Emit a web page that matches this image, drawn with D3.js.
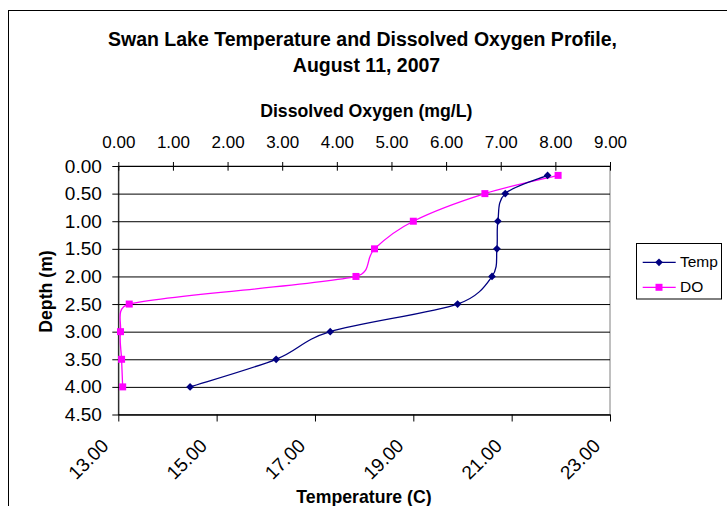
<!DOCTYPE html>
<html>
<head>
<meta charset="utf-8">
<script src="https://cdn.jsdelivr.net/npm/d3@7"></script>
<style>
  html, body { margin: 0; padding: 0; background: #fff; }
  svg { display: block; font-family: "Liberation Sans", Arial, Helvetica, sans-serif; }
</style>
</head>
<body>
<svg id="chart" width="727" height="506"></svg>
<script>
// ---- data ----
const depths = [0.17, 0.5, 1.0, 1.5, 2.0, 2.5, 3.0, 3.5, 4.0];            // m
const tempValues = [21.73, 20.87, 20.72, 20.70, 20.60, 19.90, 17.31, 16.21, 14.46]; // deg C
const doValues = [8.05, 6.71, 5.40, 4.69, 4.35, 0.20, 0.04, 0.06, 0.08];   // mg/L
const depthTicks = [0, 0.5, 1.0, 1.5, 2.0, 2.5, 3.0, 3.5, 4.0, 4.5];
const doTicks = [0, 1, 2, 3, 4, 5, 6, 7, 8, 9];
const tempTicks = [13, 15, 17, 19, 21, 23];
const seriesNames = ["Temp", "DO"];
const seriesColors = ["#000080", "#FF00FF"];
const titleLines = ["Swan Lake Temperature and Dissolved Oxygen Profile,", "August 11, 2007"];
const doAxisTitle = "Dissolved Oxygen (mg/L)";
const tempAxisTitle = "Temperature (C)";
const depthAxisTitle = "Depth (m)";

// ---- layout ----
const plot = { left: 118.3, right: 610, top: 166, bottom: 414.5 };
const plotW = plot.right - plot.left;
const svg = d3.select("#chart");

const y = d3.scaleLinear().domain([0, 4.5]).range([plot.top, plot.bottom]);
const xDO = d3.scaleLinear().domain([0, 9]).range([plot.left, plot.right]);
const xT = d3.scaleLinear().domain([13, 23]).range([plot.left, plot.right]);
const fmt = d3.format(".2f");

// chart area frame (continues past the visible window on the right and bottom)
svg.append("rect")
  .attr("x", 8.5).attr("y", 10.5).attr("width", 800).attr("height", 600)
  .attr("fill", "#fff").attr("stroke", "#000").attr("stroke-width", 1);

// plot area
svg.append("rect")
  .attr("x", plot.left).attr("y", plot.top).attr("width", plotW).attr("height", plot.bottom - plot.top)
  .attr("fill", "#fff").attr("stroke", "#808080").attr("stroke-width", 1);

// horizontal gridlines
const grid = svg.append("g").attr("transform", `translate(${plot.left},0)`)
  .call(d3.axisLeft(y).tickValues(depthTicks).tickSizeInner(-plotW).tickSizeOuter(0).tickFormat(""));
grid.select(".domain").remove();
grid.selectAll(".tick line").attr("stroke", "#000").attr("stroke-width", 1);

// depth axis (left)
const leftAx = svg.append("g").attr("transform", `translate(${plot.left},0)`)
  .call(d3.axisLeft(y).tickValues(depthTicks).tickSize(6).tickSizeOuter(0).tickFormat(fmt));
leftAx.select(".domain").attr("stroke", "#000");
leftAx.selectAll(".tick line").attr("stroke", "#000");
leftAx.selectAll(".tick text")
  .attr("x", -16.5).attr("fill", "#000")
  .style("font-size", "19px").style("font-family", "'Liberation Sans', Arial, sans-serif");

// dissolved oxygen axis (top), tick marks crossing the axis line
const topAx = svg.append("g").attr("transform", `translate(0,${plot.top})`)
  .call(d3.axisTop(xDO).tickValues(doTicks).tickSize(4).tickSizeOuter(0).tickFormat(fmt));
topAx.select(".domain").attr("stroke", "#000");
topAx.selectAll(".tick line").attr("stroke", "#000").attr("y1", 4.7).attr("y2", -4);
topAx.selectAll(".tick text")
  .attr("y", -17.7).attr("dy", 0).attr("fill", "#000")
  .style("font-size", "17px").style("font-family", "'Liberation Sans', Arial, sans-serif");

// temperature axis (bottom), labels slanted
const botAx = svg.append("g").attr("transform", `translate(0,${plot.bottom})`)
  .call(d3.axisBottom(xT).tickValues(tempTicks).tickSize(7).tickSizeOuter(0).tickFormat(fmt));
botAx.select(".domain").attr("stroke", "#000");
botAx.selectAll(".tick line").attr("stroke", "#000");
botAx.selectAll(".tick text")
  .attr("x", 0).attr("y", 0).attr("dy", 0)
  .attr("text-anchor", "end")
  .attr("transform", "translate(-9,32.5) rotate(-45)")
  .attr("fill", "#000")
  .style("font-size", "19px").style("font-family", "'Liberation Sans', Arial, sans-serif");

// smoothed line in the style of spreadsheet "smoothed line" scatter charts
function smoothPath(pts) {
  const p = d3.path();
  const n = pts.length;
  const dist = (a, b) => Math.hypot(a[0] - b[0], a[1] - b[1]);
  p.moveTo(pts[0][0], pts[0][1]);
  for (let i = 0; i < n - 1; i++) {
    const p0 = pts[Math.max(i - 1, 0)], p1 = pts[i], p2 = pts[i + 1], p3 = pts[Math.min(i + 2, n - 1)];
    const d12 = dist(p1, p2), d02 = dist(p0, p2), d13 = dist(p1, p3);
    let f1 = 1 / 6, f2 = 1 / 6;
    if (d02 / 6 >= d12 / 2) f1 = d02 > 0 ? d12 / (2 * d02) : 0;
    if (d13 / 6 >= d12 / 2) f2 = d13 > 0 ? d12 / (2 * d13) : 0;
    const c1 = [p1[0] + (p2[0] - p0[0]) * f1, p1[1] + (p2[1] - p0[1]) * f1];
    const c2 = [p2[0] - (p3[0] - p1[0]) * f2, p2[1] - (p3[1] - p1[1]) * f2];
    p.bezierCurveTo(c1[0], c1[1], c2[0], c2[1], p2[0], p2[1]);
  }
  return p.toString();
}

const tempPts = depths.map((d, i) => [xT(tempValues[i]), y(d)]);
const doPts = depths.map((d, i) => [xDO(doValues[i]), y(d)]);

const diamond = d3.symbol().type(d3.symbolSquare).size(30);
const square = d3.symbol().type(d3.symbolSquare).size(49);

// DO series
svg.append("path").attr("d", smoothPath(doPts))
  .attr("fill", "none").attr("stroke", seriesColors[1]).attr("stroke-width", 1.3);
// Temp series
svg.append("path").attr("d", smoothPath(tempPts))
  .attr("fill", "none").attr("stroke", seriesColors[0]).attr("stroke-width", 1.3);

svg.append("g").selectAll("path").data(doPts).join("path")
  .attr("d", square).attr("transform", d => `translate(${d[0]},${d[1]})`)
  .attr("fill", seriesColors[1]);
svg.append("g").selectAll("path").data(tempPts).join("path")
  .attr("d", diamond).attr("transform", d => `translate(${d[0]},${d[1]}) rotate(45)`)
  .attr("fill", seriesColors[0]);

// titles
svg.append("text").attr("x", 362.5).attr("y", 46).attr("text-anchor", "middle")
  .style("font-size", "19.5px").style("font-weight", "bold").text(titleLines[0]);
svg.append("text").attr("x", 366.5).attr("y", 71.7).attr("text-anchor", "middle")
  .style("font-size", "19.5px").style("font-weight", "bold").text(titleLines[1]);

svg.append("text").attr("x", 366.3).attr("y", 116.7).attr("text-anchor", "middle")
  .style("font-size", "17.7px").style("font-weight", "bold").text(doAxisTitle);
svg.append("text").attr("x", 364).attr("y", 503).attr("text-anchor", "middle")
  .style("font-size", "17.7px").style("font-weight", "bold").text(tempAxisTitle);
svg.append("text").attr("transform", "translate(51.5,291.5) rotate(-90)").attr("text-anchor", "middle")
  .style("font-size", "17.7px").style("font-weight", "bold").text(depthAxisTitle);

// legend
const legend = svg.append("g");
legend.append("rect").attr("x", 636.5).attr("y", 243.5).attr("width", 85).attr("height", 55.5)
  .attr("fill", "#fff").attr("stroke", "#000").attr("stroke-width", 1);
const legendRows = [262.3, 287.3];
seriesNames.forEach((name, i) => {
  const ly = legendRows[i];
  legend.append("line").attr("x1", 642.7).attr("x2", 675.7).attr("y1", ly).attr("y2", ly)
    .attr("stroke", seriesColors[i]).attr("stroke-width", 1.3);
  legend.append("path")
    .attr("d", i === 0 ? diamond : square)
    .attr("transform", `translate(659,${ly})` + (i === 0 ? " rotate(45)" : ""))
    .attr("fill", seriesColors[i]);
  legend.append("text").attr("x", 680).attr("y", ly + 4.9)
    .style("font-size", "15.5px").text(name);
});
</script>
</body>
</html>
